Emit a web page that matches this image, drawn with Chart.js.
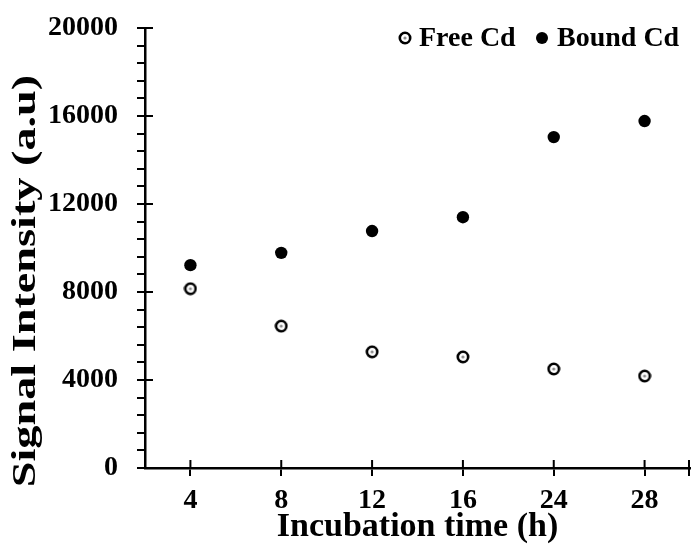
<!DOCTYPE html>
<html><head><meta charset="utf-8">
<script src="https://cdn.jsdelivr.net/npm/chart.js@4"></script>
<style>html,body{margin:0;padding:0;background:#fff}</style>
</head><body>
<canvas id="c" width="692" height="550"></canvas>
<script>
const categories = ['4', '8', '12', '16', '24', '28'];
const freeCd = [8150, 6450, 5280, 5050, 4500, 4180];
const boundCd = [9220, 9780, 10770, 11400, 15040, 15770];
const yTickLabels = [0, 4000, 8000, 12000, 16000, 20000];
const seriesNames = ['Free Cd', 'Bound Cd'];
const xTitle = 'Incubation time (h)';
const yTitle = 'Signal Intensity (a.u)';

const FONT = '"Liberation Serif", "Times New Roman", serif';

function makeRing() {
  const c = document.createElement('canvas');
  c.width = 14; c.height = 14;
  const g = c.getContext('2d');
  g.beginPath(); g.arc(7, 7, 5.2, 0, Math.PI * 2);
  g.fillStyle = '#fff'; g.fill();
  g.lineWidth = 2.6; g.strokeStyle = '#000'; g.stroke();
  g.beginPath(); g.arc(7, 7, 1.6, 0, Math.PI * 2);
  g.fillStyle = '#8a8a8a'; g.fill();
  return c;
}
const ring = makeRing();

function zeroPad(s) { s.paddingTop = 0; s.paddingBottom = 0; s.paddingLeft = 0; s.paddingRight = 0; }

const crossTicks = {
  id: 'crossTicks',
  afterDraw(chart) {
    const ctx = chart.ctx, ys = chart.scales.y, xs = chart.scales.x, a = chart.chartArea;
    ctx.save();
    ctx.strokeStyle = '#000';
    ctx.lineWidth = 2;
    ctx.beginPath();
    yTickLabels.forEach(v => {
      const y = ys.getPixelForValue(v);
      ctx.moveTo(a.left, y); ctx.lineTo(a.left + 8, y);
    });
    categories.forEach((c, i) => {
      const x = xs.getPixelForValue(i);
      ctx.moveTo(x, a.bottom); ctx.lineTo(x, a.bottom - 8);
    });
    ctx.moveTo(a.right - 1, a.bottom - 8); ctx.lineTo(a.right - 1, a.bottom + 8);
    ctx.stroke();
    ctx.restore();
  }
};

const yAxisTitle = {
  id: 'yAxisTitle',
  afterDraw(chart) {
    const ctx = chart.ctx, a = chart.chartArea;
    ctx.save();
    ctx.translate(26, a.top + 253);
    ctx.rotate(-Math.PI / 2);
    ctx.scale(1.36, 1);
    ctx.font = 'bold 34px ' + FONT;
    ctx.fillStyle = '#000';
    ctx.textAlign = 'center';
    ctx.textBaseline = 'middle';
    ctx.fillText(yTitle, 0, 0);
    ctx.restore();
  }
};

const customLegend = {
  id: 'customLegend',
  afterDraw(chart) {
    const ctx = chart.ctx, a = chart.chartArea;
    ctx.save();
    ctx.font = 'bold 28px ' + FONT;
    ctx.fillStyle = '#000';
    ctx.textBaseline = 'middle';
    ctx.textAlign = 'left';
    const cy = a.top + 10;
    const x1 = a.right - 285;
    ctx.drawImage(ring, x1 - 7, cy - 7);
    ctx.fillText(seriesNames[0], x1 + 14, cy + 1);
    const x2 = a.right - 148;
    ctx.beginPath(); ctx.arc(x2, cy, 6, 0, Math.PI * 2); ctx.fill();
    ctx.fillText(seriesNames[1], x2 + 15, cy + 1);
    ctx.restore();
  }
};

new Chart(document.getElementById('c'), {
  type: 'line',
  data: {
    labels: categories,
    datasets: [
      { label: seriesNames[0], data: freeCd, showLine: false, pointStyle: ring, pointRadius: 7, pointHoverRadius: 7 },
      { label: seriesNames[1], data: boundCd, showLine: false, pointStyle: 'circle', pointRadius: 6.2, pointHoverRadius: 6.2,
        backgroundColor: '#000', borderColor: '#000', borderWidth: 0 }
    ]
  },
  plugins: [crossTicks, customLegend, yAxisTitle],
  options: {
    responsive: false,
    devicePixelRatio: 1,
    animation: false,
    clip: false,
    layout: { autoPadding: false, padding: { top: 28, right: 2, left: 0, bottom: 0 } },
    plugins: { legend: { display: false }, tooltip: { enabled: false } },
    scales: {
      x: {
        type: 'category',
        offset: true,
        afterFit(s) { s.height = 82; zeroPad(s); },
        grid: { display: true, drawOnChartArea: false, drawTicks: true, tickLength: 8, lineWidth: 2, color: '#000', offset: false },
        border: { display: true, color: '#000', width: 2.5 },
        ticks: { color: '#000', padding: 8, font: { family: FONT, size: 28, weight: 'bold' }, maxRotation: 0 },
        title: { display: true, text: xTitle, color: '#000', font: { family: FONT, size: 34, weight: 'bold' }, padding: { top: 0, bottom: 2 } }
      },
      y: {
        min: 0, max: 20000,
        afterFit(s) { s.width = 145; zeroPad(s); },
        grid: { display: true, drawOnChartArea: false, drawTicks: true, tickLength: 8, lineWidth: 2, color: '#000' },
        border: { display: true, color: '#000', width: 2.5 },
        ticks: {
          stepSize: 800, autoSkip: false, color: '#000', padding: 19,
          font: { family: FONT, size: 28, weight: 'bold' },
          callback: v => yTickLabels.includes(v) ? String(v) : ''
        },
        title: { display: false, text: yTitle }
      }
    }
  }
});
</script>
</body></html>
